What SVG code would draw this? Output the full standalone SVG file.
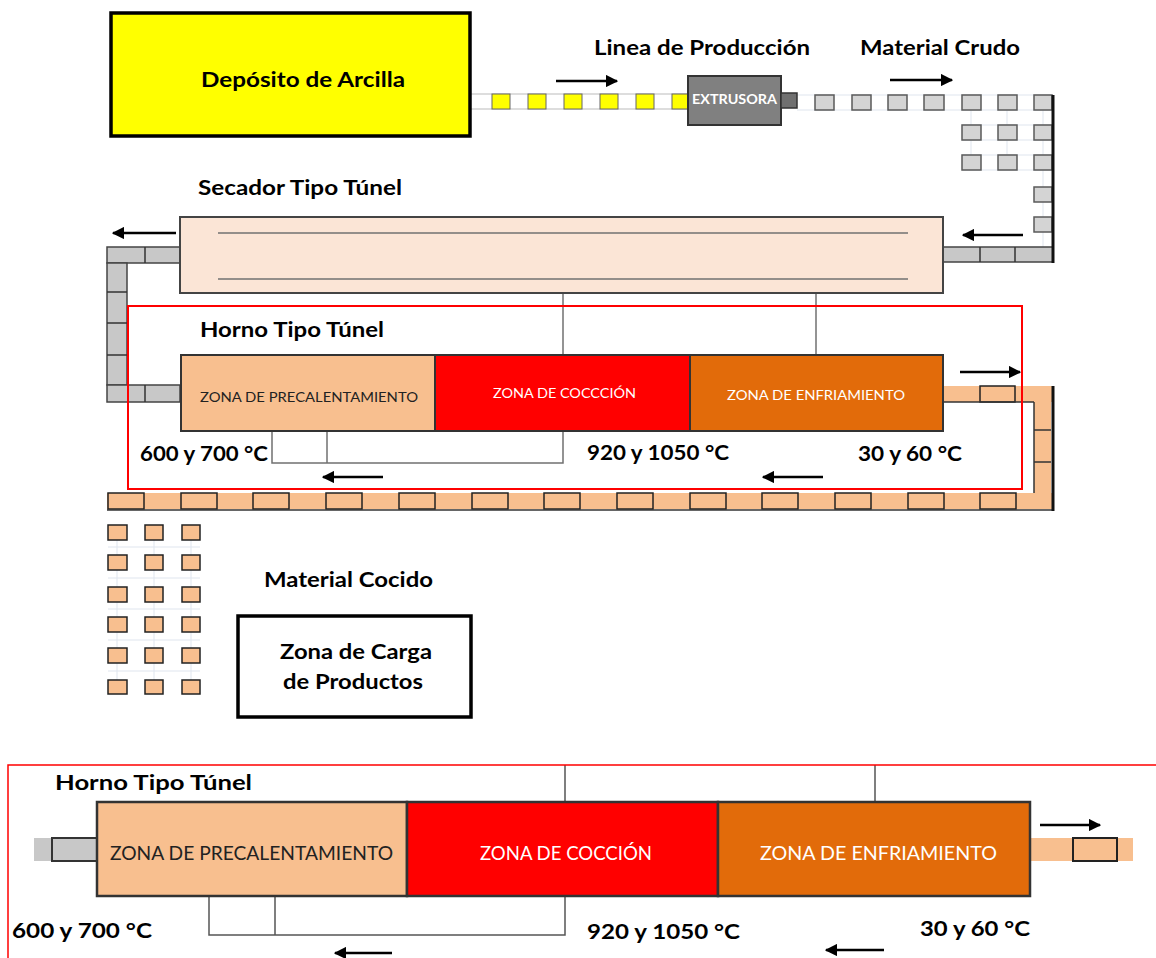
<svg xmlns="http://www.w3.org/2000/svg" width="1156" height="958" viewBox="0 0 1156 958">
<defs>
<marker id="ah" viewBox="0 0 10 10" refX="9" refY="5" markerWidth="5" markerHeight="5" orient="auto" markerUnits="strokeWidth">
<path d="M0,0 L10,5 L0,10 z" fill="#000"/>
</marker>
<style>
.t{font-family:Lato,"Open Sans","Liberation Sans",sans-serif;font-weight:bold;fill:#000;font-size:21px;}
.z{font-family:Lato,"Open Sans","Liberation Sans",sans-serif;}
.arr{stroke:#000;stroke-width:2.5;fill:none;marker-end:url(#ah);}
.ln{stroke:#707070;stroke-width:1.5;fill:none;}
.gc{fill:#d4d4d4;stroke:#5a5a5a;stroke-width:1.5;}
.gb{fill:#c8c8c8;stroke:#444;stroke-width:1.5;}
.oc{fill:#f8bf8f;stroke:#222;stroke-width:1.5;}
.ob{fill:#f8bf8f;stroke:none;}
.grid{stroke:#dfe5ee;stroke-width:1;fill:none;}
</style>
</defs>
<rect width="1156" height="958" fill="#fff"/>

<g id="connectors">
<!-- top yellow/white conveyor -->
<rect x="470" y="94" width="218" height="15" fill="#fff" stroke="#bbb" stroke-width="1"/>
<g fill="#ffff00" stroke="#666" stroke-width="1">
<rect x="492" y="94" width="18" height="15"/><rect x="528" y="94" width="18" height="15"/><rect x="564" y="94" width="18" height="15"/><rect x="600" y="94" width="18" height="15"/><rect x="636" y="94" width="18" height="15"/><rect x="672" y="94" width="16" height="15"/>
</g>
<!-- grey conveyor top right -->
<g class="grid">
<line x1="797" y1="95" x2="1053" y2="95"/><line x1="797" y1="110" x2="1053" y2="110"/>
<line x1="962" y1="125" x2="1053" y2="125"/><line x1="962" y1="140" x2="1053" y2="140"/>
<line x1="962" y1="155" x2="1053" y2="155"/><line x1="962" y1="170" x2="1053" y2="170"/>
<line x1="971" y1="95" x2="971" y2="170"/><line x1="1007" y1="95" x2="1007" y2="170"/><line x1="1043" y1="95" x2="1043" y2="247"/>
</g>
<rect class="gc" x="815" y="95" width="19" height="15"/><rect class="gc" x="852" y="95" width="19" height="15"/><rect class="gc" x="888" y="95" width="19" height="15"/><rect class="gc" x="924" y="95" width="20" height="15"/>
<rect class="gc" x="962" y="95" width="19" height="15"/><rect class="gc" x="998" y="95" width="19" height="15"/><rect class="gc" x="1034" y="95" width="18" height="15"/>
<rect class="gc" x="962" y="125" width="19" height="15"/><rect class="gc" x="998" y="125" width="19" height="15"/><rect class="gc" x="1034" y="125" width="18" height="15"/>
<rect class="gc" x="962" y="155" width="19" height="15"/><rect class="gc" x="998" y="155" width="19" height="15"/><rect class="gc" x="1034" y="155" width="18" height="15"/>
<rect class="gc" x="1034" y="187" width="18" height="15"/><rect class="gc" x="1034" y="217" width="18" height="15"/>
<rect class="gb" x="943" y="247" width="110" height="15"/>
<line x1="980" y1="247" x2="980" y2="262" stroke="#333" stroke-width="1.5"/><line x1="1015" y1="247" x2="1015" y2="262" stroke="#333" stroke-width="1.5"/>
<line x1="1053" y1="95" x2="1053" y2="263" stroke="#111" stroke-width="3"/>
<!-- left grey conveyor -->
<rect class="gb" x="107" y="247" width="73" height="16"/>
<rect class="gb" x="107" y="263" width="20" height="122"/>
<rect class="gb" x="107" y="385" width="73" height="17"/>
<g stroke="#333" stroke-width="1.5">
<line x1="145" y1="247" x2="145" y2="263"/><line x1="145" y1="385" x2="145" y2="402"/>
<line x1="107" y1="292" x2="127" y2="292"/><line x1="107" y1="323" x2="127" y2="323"/><line x1="107" y1="355" x2="127" y2="355"/>
</g>
<!-- orange conveyor -->
<rect class="ob" x="943" y="386" width="110" height="16"/>
<rect class="oc" x="980" y="386" width="35" height="16"/>
<rect class="ob" x="1034" y="402" width="17" height="91"/>
<g stroke="#333" stroke-width="1.5"><line x1="1034" y1="402" x2="1034" y2="493"/><line x1="1034" y1="430" x2="1051" y2="430"/><line x1="1034" y1="462" x2="1051" y2="462"/><line x1="943" y1="402" x2="1034" y2="402"/></g>
<rect class="ob" x="107" y="493" width="946" height="16"/>
<g class="oc">
<rect x="108" y="493" width="36" height="16"/><rect x="181" y="493" width="36" height="16"/><rect x="253" y="493" width="36" height="16"/><rect x="326" y="493" width="36" height="16"/><rect x="399" y="493" width="36" height="16"/><rect x="472" y="493" width="36" height="16"/><rect x="544" y="493" width="36" height="16"/><rect x="617" y="493" width="36" height="16"/><rect x="690" y="493" width="36" height="16"/><rect x="762" y="493" width="36" height="16"/><rect x="835" y="493" width="36" height="16"/><rect x="908" y="493" width="36" height="16"/><rect x="980" y="493" width="36" height="16"/>
</g>
<line x1="107" y1="510" x2="1053" y2="510" stroke="#333" stroke-width="1.5"/>
<line x1="1053" y1="386" x2="1053" y2="511" stroke="#111" stroke-width="3"/>
<!-- lower grid -->
<g class="grid">
<line x1="117" y1="525" x2="117" y2="693"/><line x1="154" y1="525" x2="154" y2="693"/><line x1="191" y1="525" x2="191" y2="693"/>
<line x1="108" y1="547" x2="200" y2="547"/><line x1="108" y1="578" x2="200" y2="578"/><line x1="108" y1="609" x2="200" y2="609"/><line x1="108" y1="640" x2="200" y2="640"/><line x1="108" y1="671" x2="200" y2="671"/>
</g>
<g class="oc" stroke-width="1">
<rect x="108" y="525" width="19" height="15"/><rect x="145" y="525" width="18" height="15"/><rect x="182" y="525" width="18" height="15"/>
<rect x="108" y="555" width="19" height="15"/><rect x="145" y="555" width="18" height="15"/><rect x="182" y="555" width="18" height="15"/>
<rect x="108" y="587" width="19" height="15"/><rect x="145" y="587" width="18" height="15"/><rect x="182" y="587" width="18" height="15"/>
<rect x="108" y="617" width="19" height="15"/><rect x="145" y="617" width="18" height="15"/><rect x="182" y="617" width="18" height="15"/>
<rect x="108" y="648" width="19" height="15"/><rect x="145" y="648" width="18" height="15"/><rect x="182" y="648" width="18" height="15"/>
<rect x="108" y="680" width="19" height="14"/><rect x="145" y="680" width="18" height="14"/><rect x="182" y="680" width="18" height="14"/>
</g>
<!-- arrows -->
<line class="arr" x1="556" y1="81" x2="617" y2="81"/>
<line class="arr" x1="890" y1="80" x2="952" y2="80"/>
<line class="arr" x1="1023" y1="235" x2="963" y2="235"/>
<line class="arr" x1="176" y1="233" x2="113" y2="233"/>
<line class="arr" x1="960" y1="372" x2="1020" y2="372"/>
<line class="arr" x1="383" y1="477" x2="323" y2="477"/>
<line class="arr" x1="823" y1="477" x2="763" y2="477"/>
<!-- pipe lines between secador and horno -->
<line class="ln" x1="563" y1="279" x2="563" y2="355"/>
<line class="ln" x1="816" y1="233" x2="816" y2="355"/>
<polyline class="ln" points="272,417 272,463 563,463 563,431"/>
<line class="ln" x1="327" y1="417" x2="327" y2="463"/>
<!-- bottom enlargement connectors -->
<rect x="34" y="838" width="63" height="23" fill="#c8c8c8" stroke="none"/>
<rect x="52" y="838" width="45" height="23" fill="none" stroke="#333" stroke-width="2"/>
<rect x="1030" y="838" width="103" height="23" fill="#f8bf8f" stroke="none"/>
<rect x="1073" y="838" width="44" height="23" fill="none" stroke="#222" stroke-width="2"/>
<line class="arr" x1="1040" y1="825" x2="1100" y2="825"/>
<line class="arr" x1="392" y1="953" x2="335" y2="953"/>
<line class="arr" x1="884" y1="950" x2="826" y2="950"/>
<line x1="565" y1="765" x2="565" y2="802" stroke="#555" stroke-width="1.5"/>
<line x1="875" y1="765" x2="875" y2="802" stroke="#555" stroke-width="1.5"/>
<polyline points="209,878 209,935 565,935 565,896" fill="none" stroke="#555" stroke-width="1.5"/>
<line x1="275" y1="878" x2="275" y2="935" stroke="#555" stroke-width="1.5"/>
</g>

<g id="deposito">
<rect x="111" y="13" width="359" height="123" fill="#ffff00" stroke="#000" stroke-width="3.5"/>
<text class="t" x="201" y="87" textLength="204" lengthAdjust="spacingAndGlyphs">Depósito de Arcilla</text>
</g>

<g id="extrusora">
<rect x="688" y="76" width="93" height="49" fill="#808080" stroke="#333" stroke-width="2"/>
<rect x="781" y="93" width="16" height="15" fill="#707070" stroke="#333" stroke-width="1.5"/>
<text class="z" x="692" y="104" font-size="13" font-weight="bold" fill="#fff" textLength="85" lengthAdjust="spacingAndGlyphs">EXTRUSORA</text>
</g>

<g id="labels">
<text class="t" x="594" y="55" textLength="216" lengthAdjust="spacingAndGlyphs">Linea de Producción</text>
<text class="t" x="860" y="55" textLength="160" lengthAdjust="spacingAndGlyphs">Material Crudo</text>
<text class="t" x="198" y="195" textLength="204" lengthAdjust="spacingAndGlyphs">Secador Tipo Túnel</text>
<text class="t" x="200" y="337" textLength="184" lengthAdjust="spacingAndGlyphs">Horno Tipo Túnel</text>
<text class="t" x="140" y="461" textLength="128" lengthAdjust="spacingAndGlyphs">600 y 700 °C</text>
<text class="t" x="587" y="460" textLength="142" lengthAdjust="spacingAndGlyphs">920 y 1050 °C</text>
<text class="t" x="858" y="461" textLength="104" lengthAdjust="spacingAndGlyphs">30 y 60 °C</text>
<text class="t" x="264" y="587" textLength="169" lengthAdjust="spacingAndGlyphs">Material Cocido</text>
</g>

<g id="secador">
<rect x="180" y="217" width="763" height="76" fill="#fbe5d6" stroke="#444" stroke-width="2"/>
<line class="ln" x1="218" y1="233" x2="908" y2="233"/>
<line class="ln" x1="218" y1="279" x2="908" y2="279"/>
</g>

<g id="horno">
<rect x="128" y="306" width="894" height="183" fill="none" stroke="#ff0000" stroke-width="2"/>
<rect x="181" y="355" width="254" height="76" fill="#f8bf8f" stroke="#333" stroke-width="2"/>
<rect x="435" y="355" width="255" height="76" fill="#ff0000" stroke="#333" stroke-width="2"/>
<rect x="690" y="355" width="253" height="76" fill="#e26b0a" stroke="#333" stroke-width="2"/>
<text class="z" x="200" y="402" font-size="14" fill="#222" textLength="218" lengthAdjust="spacingAndGlyphs">ZONA DE PRECALENTAMIENTO</text>
<text class="z" x="493" y="398" font-size="14" fill="#fff" textLength="143" lengthAdjust="spacingAndGlyphs">ZONA DE COCCCIÓN</text>
<text class="z" x="727" y="400" font-size="14" fill="#fff" textLength="178" lengthAdjust="spacingAndGlyphs">ZONA DE ENFRIAMIENTO</text>
</g>

<g id="carga">
<rect x="238" y="616" width="233" height="101" fill="#fff" stroke="#000" stroke-width="3.5"/>
<text class="t" x="280" y="659" textLength="152" lengthAdjust="spacingAndGlyphs">Zona de Carga</text>
<text class="t" x="283" y="689" textLength="140" lengthAdjust="spacingAndGlyphs">de Productos</text>
</g>

<g id="horno-detalle">
<rect x="8" y="765" width="1160" height="210" fill="none" stroke="#ff0000" stroke-width="1.5"/>
<text class="t" x="55" y="790" textLength="197" lengthAdjust="spacingAndGlyphs">Horno Tipo Túnel</text>
<rect x="97" y="802" width="310" height="94" fill="#f8bf8f" stroke="#333" stroke-width="2.5"/>
<rect x="407" y="802" width="311" height="94" fill="#ff0000" stroke="#333" stroke-width="2.5"/>
<rect x="718" y="802" width="312" height="94" fill="#e26b0a" stroke="#333" stroke-width="2.5"/>
<text class="z" x="110" y="860" font-size="19" fill="#222" textLength="283" lengthAdjust="spacingAndGlyphs">ZONA DE PRECALENTAMIENTO</text>
<text class="z" x="480" y="860" font-size="19" fill="#fff" textLength="172" lengthAdjust="spacingAndGlyphs">ZONA DE COCCIÓN</text>
<text class="z" x="760" y="860" font-size="19" fill="#fff" textLength="237" lengthAdjust="spacingAndGlyphs">ZONA DE ENFRIAMIENTO</text>
<text class="t" x="12" y="938" textLength="140" lengthAdjust="spacingAndGlyphs">600 y 700 °C</text>
<text class="t" x="587" y="939" textLength="153" lengthAdjust="spacingAndGlyphs">920 y 1050 °C</text>
<text class="t" x="920" y="936" textLength="110" lengthAdjust="spacingAndGlyphs">30 y 60 °C</text>
</g>
</svg>
